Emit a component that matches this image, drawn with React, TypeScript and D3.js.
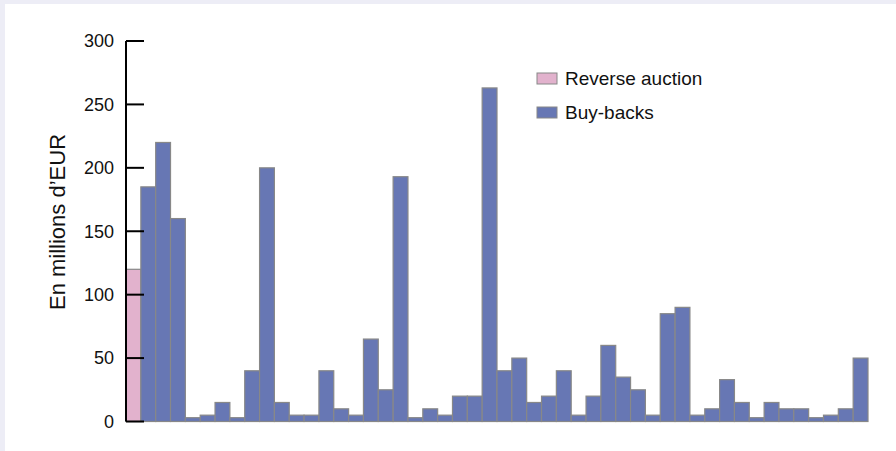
import React from "react";
import * as d3 from "d3";

const seriesTypes = ["Reverse auction", "Buy-backs"];
const colors = ["#e2b2cd", "#6777b4"];
// first bar is the reverse auction, the rest are buy-backs
const values = [
  120, 185, 220, 160, 3, 5, 15, 3, 40, 200,
  15, 5, 5, 40, 10, 5, 65, 25, 193, 3,
  10, 5, 20, 20, 263, 40, 50, 15, 20, 40,
  5, 20, 60, 35, 25, 5, 85, 90, 5, 10,
  33, 15, 3, 15, 10, 10, 3, 5, 10, 50,
];
const types = values.map((_, i) => (i === 0 ? 0 : 1));
const yTicks = [0, 50, 100, 150, 200, 250, 300];
const yLabel = "En millions d’EUR";

const W = 896;
const H = 451;
const font = "'Liberation Sans', Arial, sans-serif";

export default function App() {
  const x = d3
    .scaleBand<number>()
    .domain(values.map((_, i) => i))
    .range([126, 868])
    .padding(0);
  const y = d3.scaleLinear().domain([0, 300]).range([421.5, 41]);

  return (
    <svg
      width={W}
      height={H}
      style={{ position: "absolute", left: 0, top: 0 }}
      viewBox={`0 0 ${W} ${H}`}
    >
      <rect x={0} y={0} width={W} height={H} fill="#ededf6" />
      <rect x={5} y={4} width={W - 5} height={H - 4} fill="#ffffff" />
      {values.map((v, i) => (
        <rect
          key={i}
          x={x(i)!}
          y={y(v)}
          width={x.bandwidth()}
          height={y(0) - y(v)}
          fill={colors[types[i]]}
          stroke="#888888"
          strokeWidth={1.2}
        />
      ))}
      <line x1={126} x2={126} y1={y(300)} y2={y(0)} stroke="#000" strokeWidth={2} />
      {yTicks.map((t) => (
        <g key={t}>
          <line x1={126} x2={144} y1={y(t)} y2={y(t)} stroke="#000" strokeWidth={2} />
          <text
            x={114}
            y={y(t)}
            dy="0.35em"
            textAnchor="end"
            fontFamily={font}
            fontSize={18}
            fill="#111"
          >
            {t}
          </text>
        </g>
      ))}
      <text
        transform={`translate(65,222) rotate(-90)`}
        textAnchor="middle"
        fontFamily={font}
        fontSize={22}
        fill="#111"
      >
        {yLabel}
      </text>
      {seriesTypes.map((s, i) => (
        <g key={s} transform={`translate(537,${73 + i * 34})`}>
          <rect x={0} y={0} width={20} height={11} fill={colors[i]} stroke="#888888" strokeWidth={1} />
          <text x={28} y={12} fontFamily={font} fontSize={19} fill="#111">
            {s}
          </text>
        </g>
      ))}
    </svg>
  );
}
